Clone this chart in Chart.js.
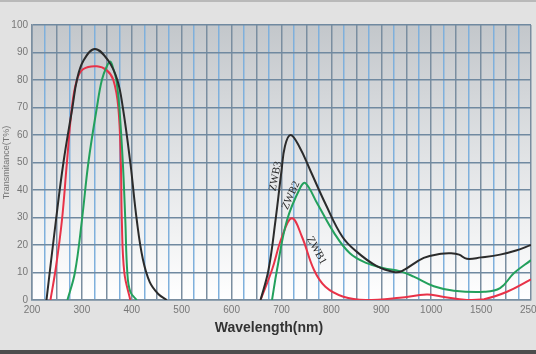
<!DOCTYPE html>
<html>
<head>
<meta charset="utf-8">
<script src="https://cdn.jsdelivr.net/npm/chart.js@4.4.1/dist/chart.umd.min.js"></script>
<style>
  html, body { margin: 0; padding: 0; background: #e2e2e2; }
  #wrap { width: 536px; height: 354px; }
</style>
</head>
<body>
<div id="wrap"><canvas id="chart" width="536" height="354"></canvas></div>
<script>
// x axis is not linear: 200..1000 in 100 nm steps, then 1500, 2500
const tickLabels = ['200', '300', '400', '500', '600', '700', '800', '900', '1000', '1500', '2500'];
const yTicks = [0, 10, 20, 30, 40, 50, 60, 70, 80, 90, 100];

// ZWB3 (black)
const zwb3Wl = [229, 248, 263, 281, 290, 303, 326, 353, 371, 382, 397, 410, 422, 436, 453, 470,
  null,
  658, 674, 688, 700, 707, 718, 735, 758, 788, 822, 851, 891, 925, 941, 985, 1100, 1200, 1280, 1357, 1500, 1880, 2200, 2500];
const zwb3T = [0, 29, 50, 70, 80, 87, 91.3, 87, 80, 70, 50, 29, 15, 6.5, 2.2, 0,
  null,
  0, 11, 29, 47, 56, 60, 56, 47, 35, 23, 17.5, 12.3, 10.2, 10.5, 15.3, 16.8, 17, 16.5, 15, 15.5, 16.5, 18, 20];

// ZWB2 (green)
const zwb2Wl = [271, 286, 300, 313, 330, 340, 350, 357, 363, 369, 375, 382, 387, 391, 397, 410,
  null,
  681, 691, 711, 738, 748, 772, 805, 837, 871, 905, 937, 965, 1026, 1227, 1560, 1880, 2160, 2500];
const zwb2T = [0, 10, 29, 50, 70, 80, 85, 86.7, 84, 80, 70, 50, 29, 10, 3, 0,
  null,
  0, 11, 29, 41, 42.5, 35, 24.5, 17, 13.4, 11.6, 10.5, 8.5, 5, 3.4, 3, 4.3, 9.8, 14.5];

// ZWB1 (red)
const zwb1Wl = [237, 248, 260, 270, 280, 290, 303, 330, 350, 363, 373, 378, 380, 385, 397,
  null,
  658, 681, 701, 721, 741, 765, 788, 824, 869, 937, 991, 1100, 1357, 1560, 2020, 2500];
const zwb1T = [0, 12, 29, 50, 70, 80, 84, 85, 83.5, 80, 70, 50, 29, 10, 0,
  null,
  0, 11, 23, 29.7, 23, 11, 4.8, 1.2, 0, 0.8, 2, 1.3, 0, 0.3, 3, 7.5];

function wlToAxis(w) {
  if (w <= 1000) return (w - 200) / 100;
  if (w <= 1500) return 8 + (w - 1000) / 500;
  return 9 + (w - 1500) / 1000;
}

function toPoints(wl, t) {
  return wl.map((w, i) => w === null ? { x: null, y: null } : { x: wlToAxis(w), y: t[i] });
}

const curveLabels = [
  { text: 'ZWB3', wl: 688, t: 45, angle: -79 },
  { text: 'ZWB2', wl: 719, t: 38, angle: -66 },
  { text: 'ZWB1', wl: 770, t: 18, angle: 61 }
];

const backdrop = {
  id: 'backdrop',
  beforeDraw(chart) {
    const { ctx, chartArea: a, width, height } = chart;
    ctx.save();
    ctx.fillStyle = '#e2e2e2';
    ctx.fillRect(0, 0, width, height);
    ctx.fillStyle = '#b9b9b9';
    ctx.fillRect(0, 0, width, 2);
    ctx.fillStyle = '#4d4d4d';
    ctx.fillRect(0, height - 4, width, 4);
    const g = ctx.createLinearGradient(0, a.top, 0, a.bottom);
    g.addColorStop(0, '#c3c7cb');
    g.addColorStop(0.5, '#e2e4e6');
    g.addColorStop(1, '#ffffff');
    ctx.fillStyle = g;
    ctx.fillRect(a.left, a.top, a.right - a.left, a.bottom - a.top);
    ctx.restore();
  },
  afterDatasetsDraw(chart) {
    const { ctx } = chart;
    const xs = chart.scales.x, ys = chart.scales.y;
    ctx.save();
    ctx.fillStyle = '#2a2a2a';
    ctx.font = '11px "Liberation Serif"';
    ctx.textAlign = 'center';
    ctx.textBaseline = 'middle';
    curveLabels.forEach(l => {
      ctx.save();
      ctx.translate(xs.getPixelForValue(wlToAxis(l.wl)), ys.getPixelForValue(l.t));
      ctx.rotate(l.angle * Math.PI / 180);
      ctx.fillText(l.text, 0, 0);
      ctx.restore();
    });
    // x axis title, set a bit left of the plot centre like the original
    ctx.fillStyle = '#333';
    ctx.font = 'bold 14px "Liberation Sans"';
    ctx.fillText('Wavelength(nm)', 269, 328);
    ctx.restore();
  }
};

const lineStyle = { borderWidth: 2, pointRadius: 0, tension: 0.4, fill: false, spanGaps: false };

new Chart(document.getElementById('chart'), {
  type: 'line',
  data: {
    datasets: [
      { label: 'ZWB3', data: toPoints(zwb3Wl, zwb3T), borderColor: '#2b2b2b', ...lineStyle },
      { label: 'ZWB2', data: toPoints(zwb2Wl, zwb2T), borderColor: '#23a05c', ...lineStyle },
      { label: 'ZWB1', data: toPoints(zwb1Wl, zwb1T), borderColor: '#e83248', ...lineStyle }
    ]
  },
  options: {
    responsive: false,
    animation: false,
    layout: { padding: { top: 25, right: 5, bottom: 0, left: 0 } },
    plugins: { legend: { display: false }, tooltip: { enabled: false } },
    scales: {
      x: {
        type: 'linear',
        min: 0,
        max: 10,
        afterFit(s) { s.height = 54; s.paddingLeft = 0; s.paddingRight = 0; },
        ticks: {
          stepSize: 0.25,
          autoSkip: false,
          maxRotation: 0,
          padding: 4,
          color: '#777',
          font: { family: 'Liberation Sans', size: 10 },
          callback: v => Math.abs(v - Math.round(v)) < 1e-6 ? tickLabels[Math.round(v)] : ''
        },
        grid: {
          drawTicks: false,
          lineWidth: 1.5,
          color: c => (c.index % 2 === 0 ? '#7a8ea0' : '#7fb0dc')
        },
        border: { color: '#7a8ea0', width: 1.5 }
      },
      y: {
        min: 0,
        max: 100,
        afterFit(s) { s.width = 32; },
        afterBuildTicks(s) { s.ticks = yTicks.map(v => ({ value: v })); },
        ticks: {
          padding: 4,
          color: '#777',
          font: { family: 'Liberation Sans', size: 10 }
        },
        grid: { drawTicks: false, lineWidth: 1.5, color: '#7089a0' },
        border: { color: '#7a8ea0', width: 1.5 },
        title: {
          display: true,
          text: 'Transmitance(T%)',
          color: '#777',
          font: { family: 'Liberation Sans', size: 9 },
          padding: 1
        }
      }
    }
  },
  plugins: [backdrop]
});
</script>
</body>
</html>
